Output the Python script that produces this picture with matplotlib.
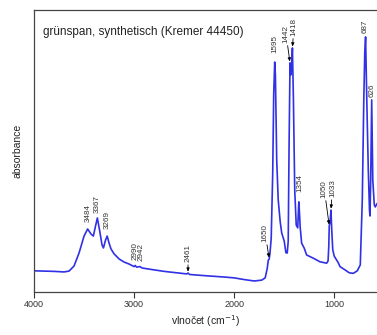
import numpy as np
import matplotlib
matplotlib.use('Agg')
import matplotlib.pyplot as plt

plt.rcParams['font.family'] = ['Liberation Sans', 'DejaVu Sans']

# spectrum (wavenumber, absorbance in arbitrary units)
wavenumber = [4000, 3800, 3700, 3650, 3600, 3550, 3500, 3464, 3430, 3407, 3385, 3367,
              3345, 3320, 3306, 3285, 3269, 3250, 3230, 3200, 3150, 3100, 3050, 3000,
              2990, 2975, 2942, 2920, 2850, 2700, 2550, 2475, 2461, 2445, 2300, 2100,
              2000, 1900, 1800, 1725, 1690, 1669, 1659, 1650, 1642, 1630, 1615, 1605,
              1595, 1588, 1575, 1560, 1540, 1525, 1500, 1483, 1470, 1460, 1452, 1442,
              1435, 1428, 1418, 1408, 1395, 1380, 1365, 1358, 1354, 1348, 1340, 1326,
              1300, 1276, 1200, 1143, 1076, 1062, 1055, 1050, 1042, 1033, 1025, 1015,
              1000, 975, 962, 955, 943, 900, 850, 810, 770, 740, 720, 705, 695, 687,
              675, 660, 648, 643, 636, 626, 615, 600, 590, 575]
absorbance = [0.075, 0.073, 0.071, 0.074, 0.092, 0.138, 0.198, 0.223, 0.205, 0.198, 0.234, 0.262,
              0.219, 0.166, 0.156, 0.184, 0.198, 0.173, 0.152, 0.135, 0.117, 0.106, 0.099, 0.090,
              0.094, 0.088, 0.090, 0.085, 0.081, 0.073, 0.067, 0.064, 0.067, 0.062, 0.058, 0.053,
              0.050, 0.044, 0.039, 0.042, 0.050, 0.085, 0.113, 0.117, 0.138, 0.190, 0.420, 0.700,
              0.814, 0.768, 0.467, 0.326, 0.248, 0.209, 0.180, 0.139, 0.138, 0.180, 0.500, 0.811,
              0.768, 0.786, 0.864, 0.680, 0.361, 0.237, 0.227, 0.290, 0.319, 0.283, 0.227, 0.173,
              0.155, 0.131, 0.118, 0.107, 0.102, 0.110, 0.160, 0.234, 0.248, 0.290, 0.219, 0.149,
              0.127, 0.112, 0.105, 0.100, 0.090, 0.080, 0.068, 0.066, 0.075, 0.096, 0.326, 0.680, 0.850, 0.903,
              0.680, 0.432, 0.290, 0.269, 0.396, 0.680, 0.396, 0.308, 0.301, 0.312]

# peak labels: (label, wavenumber, absorbance at peak)
peak_labels = ['3484', '3367', '3269', '2990', '2942', '2461', '1650', '1595',
               '1442', '1418', '1354', '1050', '1033', '687', '626']
peak_w = [3464, 3367, 3269, 2990, 2942, 2461, 1650, 1595, 1442, 1418, 1354, 1050, 1033, 687, 626]
peak_a = [0.223, 0.262, 0.198, 0.094, 0.090, 0.067, 0.117, 0.814, 0.811, 0.864, 0.319, 0.234, 0.290, 0.903, 0.680]
# label offsets in pixels and whether an arrow is drawn
label_dx = [1, 0, 0, 0, 1, 0, -4, 0, -4, 1.5, 1, -5, 1.5, 0, 0]
label_dy = [7, 5, 7, 5, 6, 11, 17, 9, 20, 12, 10, 28, 13, 4, 3]
label_arrow = [False, False, False, False, False, True, True, False, True, True, False, True, True, False, False]

fig = plt.figure(figsize=(3.77, 3.35), dpi=100)
ax = fig.add_axes([34 / 377, 43 / 335, 343 / 377, 282.5 / 335])

ax.plot(wavenumber, absorbance, color='#3030e6', lw=1.2)

for lab, w, a, dx, dy, arr in zip(peak_labels, peak_w, peak_a, label_dx, label_dy, label_arrow):
    if arr:
        ax.annotate(lab, xy=(w, a), xytext=(dx, dy), textcoords='offset pixels',
                    rotation=90, ha='center', va='bottom', fontsize=5.8, color='#333333',
                    arrowprops=dict(arrowstyle='-|>,head_length=0.35,head_width=0.15',
                                    color='black', lw=0.6, shrinkA=0, shrinkB=1))
    else:
        ax.annotate(lab, xy=(w, a), xytext=(dx, dy), textcoords='offset pixels',
                    rotation=90, ha='center', va='bottom', fontsize=5.8, color='#333333')

ax.set_xlim(4000, 573)
ax.set_ylim(0, 1)
ax.set_xticks([4000, 3000, 2000, 1000])
ax.set_yticks([])
ax.tick_params(axis='x', direction='out', length=4, width=0.8, labelsize=6.5, pad=2, colors='#333333')
for s in ['left', 'bottom', 'top']:
    ax.spines[s].set_color('#444444')
    ax.spines[s].set_linewidth(0.9)
ax.spines['right'].set_visible(False)

ax.text(0.025, 0.92, 'grünspan, synthetisch (Kremer 44450)', transform=ax.transAxes,
        fontsize=8.5, color='#222222', va='center')
ax.set_xlabel('vlnočet (cm$^{-1}$)', fontsize=7.5, color='#222222', labelpad=3)
ax.set_ylabel('absorbance', fontsize=7.5, color='#222222', labelpad=8)

fig.savefig('out.png', dpi=100)
